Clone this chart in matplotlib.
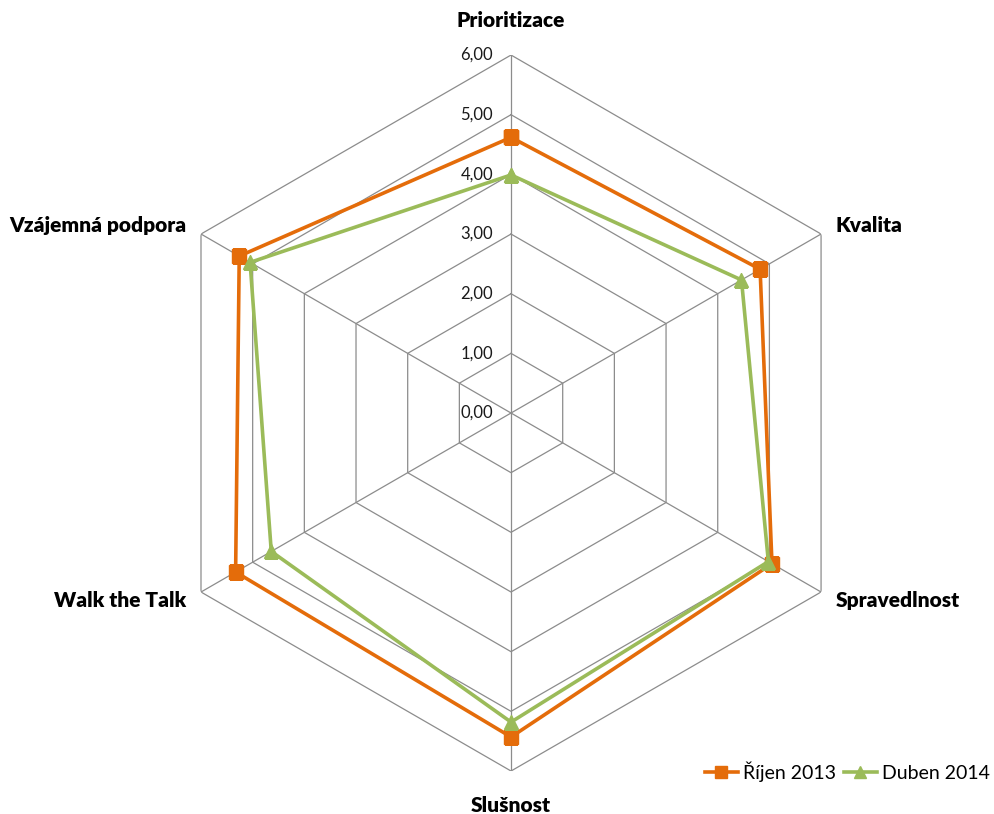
import numpy as np
import matplotlib
matplotlib.use("Agg")
import matplotlib.pyplot as plt

# data
categories = ["Prioritizace", "Kvalita", "Spravedlnost", "Slušnost",
              "Walk the Talk", "Vzájemná podpora"]
rijen_2013 = [4.62, 4.82, 5.05, 5.43, 5.33, 5.26]
duben_2014 = [3.99, 4.46, 4.98, 5.18, 4.64, 5.05]
r_ticks = [0, 1, 2, 3, 4, 5, 6]
r_labels = ["0,00", "1,00", "2,00", "3,00", "4,00", "5,00", "6,00"]

orange = "#E46C0A"
green = "#9BBB59"
grid_col = "#8C8C8C"

plt.rcParams["font.family"] = ["Lato", "DejaVu Sans"]

fig = plt.figure(figsize=(9.95, 8.14), dpi=100)
ax = fig.add_axes([0.1538, 0.0528, 0.7196, 0.8796], projection="polar")
ax.set_theta_offset(np.pi / 2)
ax.set_theta_direction(-1)
ax.set_ylim(0, r_ticks[-1])
ax.grid(False)
ax.set_xticks([])
ax.set_yticks([])
ax.spines["polar"].set_visible(False)
ax.patch.set_visible(False)

n = len(categories)
angles = np.arange(n) * 2 * np.pi / n
closed = np.append(angles, angles[0])

# hexagon grid + spokes
for r in r_ticks[1:]:
    ax.plot(closed, [r] * (n + 1), color=grid_col, lw=0.9, zorder=1)
for a in angles:
    ax.plot([a, a], [0, r_ticks[-1]], color=grid_col, lw=0.9, zorder=1)

# radial labels next to the top spoke
for r, lab in zip(r_ticks, r_labels):
    ax.annotate(lab, xy=(0, r), xytext=(-13, 0), textcoords="offset points",
                ha="right", va="center", fontsize=12, color="#1a1a1a")

# category labels
for a, name in zip(angles, categories):
    s = np.sin(a)
    if abs(s) < 0.01:
        ax.text(a, 6.58, name, ha="center", va="center",
                fontsize=15, fontweight="heavy")
    else:
        ax.text(a, 6.28, name, ha="left" if s > 0 else "right", va="center",
                fontsize=15, fontweight="heavy")

ax.plot(closed, rijen_2013 + rijen_2013[:1], color=orange, lw=2.6,
        marker="s", markersize=9.5, label="Říjen 2013", zorder=3)
ax.plot(closed, duben_2014 + duben_2014[:1], color=green, lw=2.6,
        marker="^", markersize=9.5, label="Duben 2014", zorder=4)

fig.legend(loc="center right", bbox_to_anchor=(1.012, 1 - 772 / 814), ncol=2,
           frameon=False, fontsize=14, handlelength=1.7, handletextpad=0.25,
           columnspacing=0.4, markerscale=0.85)

fig.savefig("out.png", dpi=100)
